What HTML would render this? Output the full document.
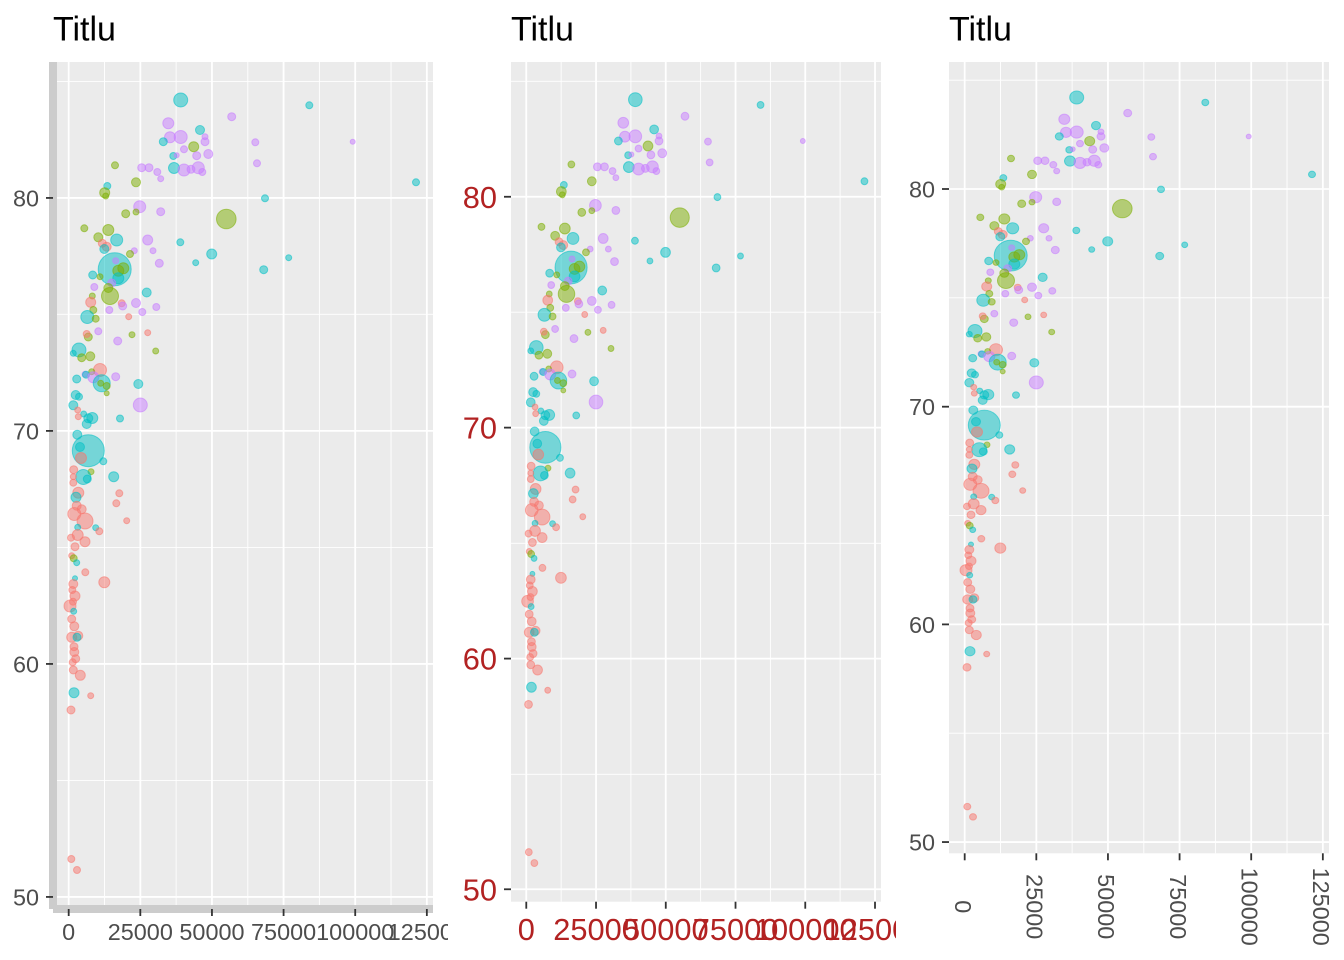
<!DOCTYPE html>
<html>
<head>
<meta charset="utf-8">
<style>
html,body{margin:0;padding:0;background:#fff;}
svg{display:block;}
text{font-family:"Liberation Sans",Arial,sans-serif;}
.r{fill:#F8766D;stroke:#F8766D;}
.g{fill:#7CAE00;stroke:#7CAE00;}
.c{fill:#00BFC4;stroke:#00BFC4;}
.p{fill:#C77CFF;stroke:#C77CFF;}
#pts circle{fill-opacity:.5;stroke-opacity:.55;stroke-width:1;}
.mj{stroke:#fff;stroke-width:1.8;}
.mn{stroke:#fff;stroke-width:0.9;}
.tk{stroke:#333;stroke-width:1.8;}
</style>
</head>
<body>
<svg width="1344" height="960" viewBox="0 0 1344 960" xmlns="http://www.w3.org/2000/svg">
<defs>
<clipPath id="c1"><rect x="53" y="62" width="380" height="847"/></clipPath>
<clipPath id="c2"><rect x="511" y="62" width="370" height="839.7"/></clipPath>
<clipPath id="c3"><rect x="949" y="62" width="380" height="791.3"/></clipPath>
<clipPath id="v1"><rect x="0" y="0" width="448" height="960"/></clipPath>
<clipPath id="v2"><rect x="448" y="0" width="448" height="960"/></clipPath>
<g id="pts">
<circle class="c" cx="114.7" cy="269.3" r="16.5"/>
<circle class="c" cx="88.3" cy="450.7" r="16"/>
<circle class="g" cx="226.3" cy="219" r="9.8"/>
<circle class="c" cx="180.7" cy="100" r="7"/>
<circle class="c" cx="309.3" cy="105.3" r="3.5"/>
<circle class="p" cx="231.7" cy="116.7" r="4"/>
<circle class="p" cx="168.3" cy="123.3" r="5.5"/>
<circle class="c" cx="200" cy="130" r="4.5"/>
<circle class="p" cx="170" cy="137.3" r="5.5"/>
<circle class="p" cx="180.7" cy="137" r="6.5"/>
<circle class="p" cx="205" cy="136.7" r="3"/>
<circle class="p" cx="205" cy="141.7" r="4"/>
<circle class="c" cx="163.3" cy="141.7" r="4"/>
<circle class="p" cx="255.3" cy="142.3" r="3.5"/>
<circle class="p" cx="352.7" cy="141.7" r="2.5"/>
<circle class="g" cx="193.7" cy="146.7" r="5"/>
<circle class="p" cx="184" cy="149.3" r="3.5"/>
<circle class="c" cx="173.3" cy="156" r="3.5"/>
<circle class="p" cx="176.7" cy="155.3" r="2.5"/>
<circle class="p" cx="196.7" cy="155.7" r="4"/>
<circle class="p" cx="208.3" cy="154" r="4.5"/>
<circle class="p" cx="257" cy="163.3" r="3.5"/>
<circle class="g" cx="115" cy="165.3" r="3.5"/>
<circle class="p" cx="141.7" cy="167.7" r="4"/>
<circle class="p" cx="149" cy="167.7" r="4"/>
<circle class="c" cx="174" cy="168" r="5.5"/>
<circle class="p" cx="184" cy="170" r="6"/>
<circle class="p" cx="191" cy="169.3" r="4"/>
<circle class="p" cx="198.3" cy="167.7" r="6"/>
<circle class="p" cx="202.3" cy="172" r="3.5"/>
<circle class="p" cx="157.3" cy="172" r="3.5"/>
<circle class="p" cx="160.7" cy="178.7" r="3"/>
<circle class="c" cx="416" cy="182.3" r="3.5"/>
<circle class="g" cx="136" cy="182.3" r="4.5"/>
<circle class="c" cx="107.3" cy="186" r="3.5"/>
<circle class="g" cx="104.7" cy="192.7" r="5"/>
<circle class="g" cx="105.7" cy="196" r="3"/>
<circle class="c" cx="265" cy="198.3" r="3.5"/>
<circle class="p" cx="139.7" cy="206.7" r="6"/>
<circle class="p" cx="160.7" cy="211.7" r="4"/>
<circle class="g" cx="125.7" cy="213.7" r="4"/>
<circle class="g" cx="136" cy="212" r="3"/>
<circle class="g" cx="84.3" cy="228.3" r="3.5"/>
<circle class="g" cx="108.3" cy="230" r="5.5"/>
<circle class="g" cx="98.3" cy="237.3" r="4.5"/>
<circle class="c" cx="116.7" cy="240" r="6"/>
<circle class="p" cx="147.7" cy="240" r="5"/>
<circle class="c" cx="180.3" cy="242.3" r="3.5"/>
<circle class="r" cx="102.3" cy="243.3" r="4"/>
<circle class="r" cx="106.7" cy="246.7" r="4.5"/>
<circle class="c" cx="104.3" cy="249" r="4.5"/>
<circle class="p" cx="134.3" cy="250.7" r="3"/>
<circle class="p" cx="153" cy="250.7" r="3"/>
<circle class="g" cx="130" cy="254" r="3.5"/>
<circle class="c" cx="211.7" cy="254" r="5"/>
<circle class="c" cx="288.7" cy="257.7" r="3"/>
<circle class="p" cx="115.7" cy="260.7" r="3"/>
<circle class="p" cx="159.3" cy="263.3" r="4"/>
<circle class="c" cx="195.7" cy="262.7" r="3"/>
<circle class="g" cx="118.3" cy="270.7" r="5.5"/>
<circle class="g" cx="123.3" cy="268.3" r="5.5"/>
<circle class="c" cx="118.3" cy="278.3" r="5.5"/>
<circle class="c" cx="263.7" cy="269.7" r="4"/>
<circle class="c" cx="92.7" cy="275" r="4"/>
<circle class="g" cx="100" cy="276.7" r="3"/>
<circle class="p" cx="94.3" cy="287" r="3.5"/>
<circle class="p" cx="111.7" cy="283" r="4"/>
<circle class="g" cx="108.3" cy="288" r="4.5"/>
<circle class="g" cx="110" cy="296" r="8.5"/>
<circle class="g" cx="92.3" cy="296" r="3"/>
<circle class="c" cx="146.7" cy="292.5" r="4.5"/>
<circle class="r" cx="90.7" cy="302.3" r="5"/>
<circle class="r" cx="121.7" cy="303.3" r="3.5"/>
<circle class="p" cx="122.7" cy="306" r="4"/>
<circle class="p" cx="136" cy="303" r="4.5"/>
<circle class="p" cx="156.3" cy="307" r="3.5"/>
<circle class="g" cx="93.3" cy="310" r="3.5"/>
<circle class="p" cx="109.3" cy="310" r="3.5"/>
<circle class="p" cx="142.3" cy="312" r="3.5"/>
<circle class="c" cx="87.3" cy="317" r="6.5"/>
<circle class="g" cx="95.7" cy="318.7" r="3.5"/>
<circle class="r" cx="128.7" cy="316.7" r="3"/>
<circle class="p" cx="98.3" cy="331.3" r="3.5"/>
<circle class="r" cx="147.7" cy="332.7" r="3"/>
<circle class="g" cx="132" cy="334.7" r="3"/>
<circle class="g" cx="88.3" cy="337" r="4"/>
<circle class="r" cx="86.7" cy="334" r="3.5"/>
<circle class="p" cx="117.7" cy="341" r="4"/>
<circle class="g" cx="155.7" cy="351" r="3"/>
<circle class="c" cx="79" cy="350" r="7"/>
<circle class="c" cx="73.3" cy="353.3" r="3"/>
<circle class="g" cx="81.7" cy="357.7" r="4"/>
<circle class="g" cx="90.3" cy="356.3" r="4.5"/>
<circle class="r" cx="100" cy="370" r="6.5"/>
<circle class="g" cx="91.7" cy="371.7" r="3"/>
<circle class="p" cx="85" cy="374.3" r="3"/>
<circle class="c" cx="76.7" cy="379" r="4"/>
<circle class="c" cx="86" cy="374.7" r="3.5"/>
<circle class="p" cx="93.3" cy="377.3" r="5.5"/>
<circle class="p" cx="115.7" cy="376.7" r="4"/>
<circle class="c" cx="101.7" cy="383.3" r="8.5"/>
<circle class="g" cx="100.7" cy="383.3" r="3"/>
<circle class="g" cx="106.7" cy="386" r="3.5"/>
<circle class="g" cx="106.7" cy="393.3" r="2.5"/>
<circle class="c" cx="138.3" cy="384" r="4.5"/>
<circle class="c" cx="75.7" cy="395" r="4.5"/>
<circle class="c" cx="79" cy="396.7" r="3.5"/>
<circle class="c" cx="73.3" cy="405.3" r="4.5"/>
<circle class="p" cx="140.3" cy="405" r="7"/>
<circle class="r" cx="77.7" cy="410" r="3"/>
<circle class="c" cx="83.7" cy="414" r="3"/>
<circle class="c" cx="92.3" cy="418" r="5.5"/>
<circle class="r" cx="78.3" cy="416.7" r="3"/>
<circle class="c" cx="120" cy="418.5" r="3.5"/>
<circle class="c" cx="88.3" cy="418.3" r="4.5"/>
<circle class="c" cx="86.7" cy="424" r="4.5"/>
<circle class="c" cx="77.3" cy="434.7" r="4.5"/>
<circle class="c" cx="80" cy="447" r="4.5"/>
<circle class="r" cx="81" cy="458" r="5.5"/>
<circle class="c" cx="103.3" cy="461.3" r="3.5"/>
<circle class="r" cx="73.7" cy="469.7" r="4"/>
<circle class="g" cx="91" cy="471.7" r="3"/>
<circle class="c" cx="83.3" cy="477" r="7.5"/>
<circle class="c" cx="87.3" cy="479" r="4"/>
<circle class="c" cx="113.7" cy="476.7" r="5"/>
<circle class="r" cx="73.3" cy="476.7" r="3"/>
<circle class="r" cx="73.3" cy="482.7" r="3.5"/>
<circle class="r" cx="119.3" cy="493.3" r="3.5"/>
<circle class="r" cx="78.3" cy="492.7" r="5.5"/>
<circle class="c" cx="76" cy="497.3" r="5"/>
<circle class="r" cx="116.3" cy="503.3" r="3.5"/>
<circle class="r" cx="76.7" cy="505.7" r="4.5"/>
<circle class="r" cx="81.7" cy="509.3" r="4.5"/>
<circle class="r" cx="74.3" cy="514" r="6.5"/>
<circle class="r" cx="85" cy="521" r="8"/>
<circle class="r" cx="126.7" cy="520.7" r="3"/>
<circle class="c" cx="77.7" cy="527.3" r="3"/>
<circle class="c" cx="95.7" cy="527.7" r="3"/>
<circle class="r" cx="99.3" cy="531.3" r="3.5"/>
<circle class="r" cx="77.7" cy="535" r="5.5"/>
<circle class="r" cx="71" cy="537.7" r="3.5"/>
<circle class="r" cx="85" cy="541.7" r="5"/>
<circle class="r" cx="75" cy="546.7" r="4"/>
<circle class="r" cx="71.7" cy="555.7" r="3"/>
<circle class="g" cx="73.7" cy="558.3" r="3.5"/>
<circle class="c" cx="76.7" cy="562.7" r="3"/>
<circle class="r" cx="85.3" cy="572.3" r="3.5"/>
<circle class="r" cx="104.3" cy="582.3" r="5.5"/>
<circle class="c" cx="75" cy="578.3" r="2.5"/>
<circle class="r" cx="73.3" cy="584" r="4.5"/>
<circle class="r" cx="72.3" cy="590" r="3.5"/>
<circle class="r" cx="75" cy="596" r="5"/>
<circle class="r" cx="70" cy="606" r="6"/>
<circle class="r" cx="73" cy="601.7" r="3.5"/>
<circle class="c" cx="73.7" cy="611.3" r="3"/>
<circle class="r" cx="71.7" cy="619" r="4"/>
<circle class="r" cx="74.3" cy="626.3" r="4.5"/>
<circle class="r" cx="71.7" cy="637.3" r="5"/>
<circle class="r" cx="78.3" cy="635.7" r="4.5"/>
<circle class="c" cx="77" cy="637.3" r="4"/>
<circle class="r" cx="74" cy="646.7" r="4"/>
<circle class="r" cx="74.3" cy="652" r="4.5"/>
<circle class="r" cx="75.7" cy="658.7" r="4"/>
<circle class="r" cx="72.7" cy="662.3" r="3.5"/>
<circle class="r" cx="73.3" cy="670" r="4"/>
<circle class="r" cx="80.3" cy="675.3" r="5"/>
<circle class="c" cx="74" cy="692.7" r="5"/>
<circle class="r" cx="90.7" cy="695.7" r="3"/>
<circle class="r" cx="71" cy="710" r="4"/>
<circle class="r" cx="71.3" cy="859" r="3.5"/>
<circle class="r" cx="77" cy="870" r="3.5"/>
</g>
</defs>

<!-- ================= PANEL 1 ================= -->
<text x="53" y="40.7" font-size="34" fill="#000">Titlu</text>
<rect x="53" y="62" width="380" height="847" fill="#EBEBEB"/>
<g class="mn">
<line x1="53" x2="433" y1="81.44" y2="81.44"/><line x1="53" x2="433" y1="314.35" y2="314.35"/><line x1="53" x2="433" y1="547.46" y2="547.46"/><line x1="53" x2="433" y1="780.47" y2="780.47"/>
<line y1="62" y2="909" x1="104.51" x2="104.51"/><line y1="62" y2="909" x1="176.14" x2="176.14"/><line y1="62" y2="909" x1="247.77" x2="247.77"/><line y1="62" y2="909" x1="319.4" x2="319.4"/><line y1="62" y2="909" x1="391.03" x2="391.03"/>
</g>
<g class="mj">
<line x1="53" x2="433" y1="197.94" y2="197.94"/><line x1="53" x2="433" y1="430.9" y2="430.9"/><line x1="53" x2="433" y1="663.93" y2="663.93"/><line x1="53" x2="433" y1="896.93" y2="896.93"/>
<line y1="62" y2="909" x1="68.69" x2="68.69"/><line y1="62" y2="909" x1="140.32" x2="140.32"/><line y1="62" y2="909" x1="211.95" x2="211.95"/><line y1="62" y2="909" x1="283.58" x2="283.58"/><line y1="62" y2="909" x1="355.21" x2="355.21"/><line y1="62" y2="909" x1="426.84" x2="426.84"/>
</g>
<g clip-path="url(#c1)"><use href="#pts"/></g>
<rect x="49" y="62" width="8" height="847" fill="#CCCCCC"/>
<rect x="53" y="905" width="380" height="8" fill="#CCCCCC"/>
<g class="tk">
<line x1="46" x2="53" y1="197.94" y2="197.94"/><line x1="46" x2="53" y1="430.9" y2="430.9"/><line x1="46" x2="53" y1="663.93" y2="663.93"/><line x1="46" x2="53" y1="896.93" y2="896.93"/>
<line y1="909" y2="916" x1="68.69" x2="68.69"/><line y1="909" y2="916" x1="140.32" x2="140.32"/><line y1="909" y2="916" x1="211.95" x2="211.95"/><line y1="909" y2="916" x1="283.58" x2="283.58"/><line y1="909" y2="916" x1="355.21" x2="355.21"/><line y1="909" y2="916" x1="426.84" x2="426.84"/>
</g>
<g font-size="23.4" fill="#4D4D4D" text-anchor="end">
<text x="39" y="206.3">80</text><text x="39" y="439.3">70</text><text x="39" y="672.3">60</text><text x="39" y="905.3">50</text>
</g>
<g font-size="23.4" fill="#4D4D4D" text-anchor="middle" clip-path="url(#v1)">
<text x="68.69" y="940">0</text><text x="140.32" y="940">25000</text><text x="211.95" y="940">50000</text><text x="283.58" y="940">75000</text><text x="355.21" y="940">100000</text><text x="426.84" y="940">125000</text>
</g>

<!-- ================= PANEL 2 ================= -->
<text x="511" y="40.7" font-size="34" fill="#000">Titlu</text>
<rect x="511" y="62" width="370" height="839.7" fill="#EBEBEB"/>
<g class="mn">
<line x1="511" x2="881" y1="81.27" y2="81.27"/><line x1="511" x2="881" y1="312.14" y2="312.14"/><line x1="511" x2="881" y1="543.27" y2="543.27"/><line x1="511" x2="881" y1="774.27" y2="774.27"/>
<line y1="62" y2="901.7" x1="561.15" x2="561.15"/><line y1="62" y2="901.7" x1="630.9" x2="630.9"/><line y1="62" y2="901.7" x1="700.64" x2="700.64"/><line y1="62" y2="901.7" x1="770.39" x2="770.39"/><line y1="62" y2="901.7" x1="840.13" x2="840.13"/>
</g>
<g class="mj">
<line x1="511" x2="881" y1="196.77" y2="196.77"/><line x1="511" x2="881" y1="427.63" y2="427.63"/><line x1="511" x2="881" y1="658.59" y2="658.59"/><line x1="511" x2="881" y1="889.27" y2="889.27"/>
<line y1="62" y2="901.7" x1="526.28" x2="526.28"/><line y1="62" y2="901.7" x1="596.03" x2="596.03"/><line y1="62" y2="901.7" x1="665.77" x2="665.77"/><line y1="62" y2="901.7" x1="735.52" x2="735.52"/><line y1="62" y2="901.7" x1="805.26" x2="805.26"/><line y1="62" y2="901.7" x1="875.01" x2="875.01"/>
</g>
<g clip-path="url(#c2)"><use href="#pts" transform="translate(511,62) scale(0.97368,0.99138) translate(-53,-62)"/></g>
<g class="tk">
<line x1="504" x2="511" y1="196.77" y2="196.77"/><line x1="504" x2="511" y1="427.63" y2="427.63"/><line x1="504" x2="511" y1="658.59" y2="658.59"/><line x1="504" x2="511" y1="889.27" y2="889.27"/>
<line y1="901.7" y2="908.7" x1="526.28" x2="526.28"/><line y1="901.7" y2="908.7" x1="596.03" x2="596.03"/><line y1="901.7" y2="908.7" x1="665.77" x2="665.77"/><line y1="901.7" y2="908.7" x1="735.52" x2="735.52"/><line y1="901.7" y2="908.7" x1="805.26" x2="805.26"/><line y1="901.7" y2="908.7" x1="875.01" x2="875.01"/>
</g>
<g font-size="30.8" fill="#B22222" text-anchor="end">
<text x="497" y="207.8">80</text><text x="497" y="438.7">70</text><text x="497" y="669.7">60</text><text x="497" y="900.4">50</text>
</g>
<g font-size="30.8" fill="#B22222" text-anchor="middle" clip-path="url(#v2)">
<text x="526.28" y="940">0</text><text x="596.03" y="940">25000</text><text x="665.77" y="940">50000</text><text x="735.52" y="940">75000</text><text x="805.26" y="940">100000</text><text x="875.01" y="940">125000</text>
</g>

<!-- ================= PANEL 3 ================= -->
<text x="949" y="40.7" font-size="34" fill="#000">Titlu</text>
<rect x="949" y="62" width="380" height="791.3" fill="#EBEBEB"/>
<g class="mn">
<line x1="949" x2="1329" y1="80.16" y2="80.16"/><line x1="949" x2="1329" y1="297.85" y2="297.85"/><line x1="949" x2="1329" y1="515.53" y2="515.53"/><line x1="949" x2="1329" y1="733.22" y2="733.22"/>
<line y1="62" y2="853.3" x1="1000.51" x2="1000.51"/><line y1="62" y2="853.3" x1="1072.14" x2="1072.14"/><line y1="62" y2="853.3" x1="1143.77" x2="1143.77"/><line y1="62" y2="853.3" x1="1215.4" x2="1215.4"/><line y1="62" y2="853.3" x1="1287.03" x2="1287.03"/>
</g>
<g class="mj">
<line x1="949" x2="1329" y1="189" y2="189"/><line x1="949" x2="1329" y1="406.7" y2="406.7"/><line x1="949" x2="1329" y1="624.4" y2="624.4"/><line x1="949" x2="1329" y1="842.05" y2="842.05"/>
<line y1="62" y2="853.3" x1="964.69" x2="964.69"/><line y1="62" y2="853.3" x1="1036.32" x2="1036.32"/><line y1="62" y2="853.3" x1="1107.95" x2="1107.95"/><line y1="62" y2="853.3" x1="1179.58" x2="1179.58"/><line y1="62" y2="853.3" x1="1251.21" x2="1251.21"/><line y1="62" y2="853.3" x1="1322.84" x2="1322.84"/>
</g>
<g clip-path="url(#c3)"><use href="#pts" transform="translate(949,62) scale(1,0.93424) translate(-53,-62)"/></g>
<g class="tk">
<line x1="942" x2="949" y1="189" y2="189"/><line x1="942" x2="949" y1="406.7" y2="406.7"/><line x1="942" x2="949" y1="624.4" y2="624.4"/><line x1="942" x2="949" y1="842.05" y2="842.05"/>
<line y1="853.3" y2="860.3" x1="964.69" x2="964.69"/><line y1="853.3" y2="860.3" x1="1036.32" x2="1036.32"/><line y1="853.3" y2="860.3" x1="1107.95" x2="1107.95"/><line y1="853.3" y2="860.3" x1="1179.58" x2="1179.58"/><line y1="853.3" y2="860.3" x1="1251.21" x2="1251.21"/><line y1="853.3" y2="860.3" x1="1322.84" x2="1322.84"/>
</g>
<g font-size="23.4" fill="#4D4D4D" text-anchor="end">
<text x="935" y="197.4">80</text><text x="935" y="415.1">70</text><text x="935" y="632.8">60</text><text x="935" y="850.5">50</text>
</g>
<g font-size="23.4" fill="#4D4D4D" text-anchor="middle">
<text transform="translate(963.3,906.7) rotate(90)" dy="0.36em">0</text>
<text transform="translate(1034.9,906.7) rotate(90)" dy="0.36em">25000</text>
<text transform="translate(1106.6,906.7) rotate(90)" dy="0.36em">50000</text>
<text transform="translate(1178.2,906.7) rotate(90)" dy="0.36em">75000</text>
<text transform="translate(1249.8,906.7) rotate(90)" dy="0.36em">100000</text>
<text transform="translate(1321.4,906.7) rotate(90)" dy="0.36em">125000</text>
</g>
</svg>
</body>
</html>
